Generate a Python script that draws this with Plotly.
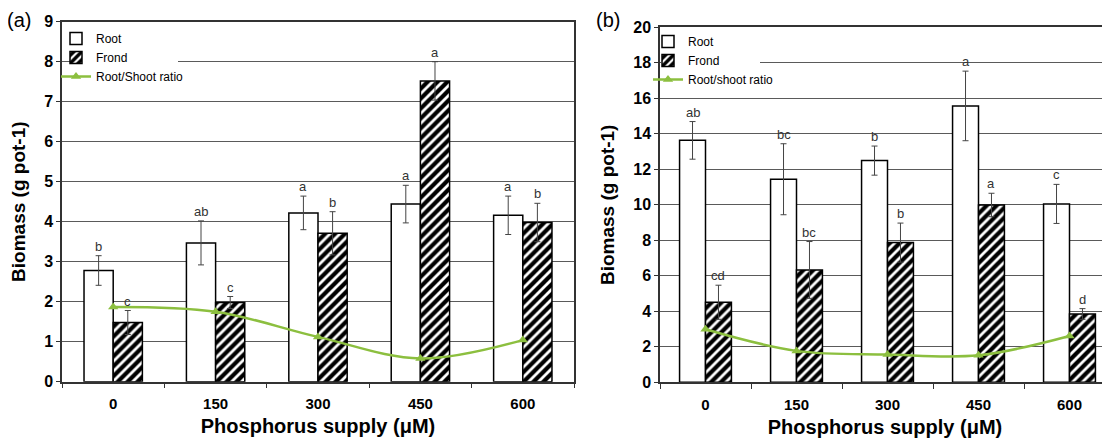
import plotly.graph_objects as go

categories = ["0", "150", "300", "450", "600"]

# Panel (a)
root_a = [2.78, 3.47, 4.22, 4.44, 4.16]
root_a_err = [0.37, 0.55, 0.42, 0.47, 0.48]
frond_a = [1.48, 1.98, 3.71, 7.52, 3.98]
frond_a_err = [0.30, 0.15, 0.54, 0.48, 0.48]
ratio_a = [1.87, 1.75, 1.12, 0.58, 1.04]
letters_root_a = ["b", "ab", "a", "a", "a"]
letters_frond_a = ["c", "c", "b", "a", "b"]

# Panel (b)
root_b = [13.63, 11.44, 12.49, 15.57, 10.05]
root_b_err = [1.06, 2.00, 0.82, 1.96, 1.10]
frond_b = [4.51, 6.33, 7.87, 9.99, 3.85]
frond_b_err = [0.96, 1.60, 1.10, 0.66, 0.30]
ratio_b = [2.99, 1.77, 1.56, 1.52, 2.61]
letters_root_b = ["ab", "bc", "b", "a", "c"]
letters_frond_b = ["cd", "bc", "b", "a", "d"]

W, H = 1110, 439
PAGE_OFFSET = 8  # browser default body margin
GREEN = "#8cbf3f"
GRID = "#5a5a5a"
ERR = "#444444"
FONT = "Liberation Sans, Arial, sans-serif"
BARGAP = 0.43
OFF = (1 - BARGAP) / 4  # center offset of each bar in category units


def px_x(p):
    return (p - PAGE_OFFSET) / W


def px_y(p):
    return (H - (p - PAGE_OFFSET)) / H


fig = go.Figure()


def add_panel(xa, ya, legend, root, root_err, frond, frond_err, ratio, ratio_name):
    fig.add_trace(go.Bar(
        x=categories, y=root, name="Root", xaxis=xa, yaxis=ya, legend=legend,
        marker=dict(color="white", line=dict(color="black", width=1.5)),
        error_y=dict(type="data", array=root_err, color=ERR, thickness=1, width=3),
    ))
    fig.add_trace(go.Bar(
        x=categories, y=frond, name="Frond", xaxis=xa, yaxis=ya, legend=legend,
        marker=dict(color="white", line=dict(color="black", width=1.5),
                    pattern=dict(shape="/", fgcolor="black", bgcolor="white",
                                 fgopacity=1, size=7, solidity=0.6)),
        error_y=dict(type="data", array=frond_err, color=ERR, thickness=1, width=3),
    ))
    fig.add_trace(go.Scatter(
        x=categories, y=ratio, name=ratio_name, xaxis=xa, yaxis=ya, legend=legend,
        mode="lines+markers", line=dict(color=GREEN, width=2.5, shape="spline"),
        marker=dict(symbol="triangle-up", size=9, color=GREEN),
    ))


add_panel("x", "y", "legend", root_a, root_a_err, frond_a, frond_a_err, ratio_a, "Root/Shoot ratio")
add_panel("x2", "y2", "legend2", root_b, root_b_err, frond_b, frond_b_err, ratio_b, "Root/shoot ratio")

annotations = []


def add_letters(xref, yref, vals, errs, letters, sign):
    for i, (v, e, t) in enumerate(zip(vals, errs, letters)):
        annotations.append(dict(
            x=i + sign * OFF, y=v + e, xref=xref, yref=yref, text=t,
            showarrow=False, yanchor="bottom", yshift=0,
            font=dict(family=FONT, size=13, color="#333333"),
        ))


add_letters("x", "y", root_a, root_a_err, letters_root_a, -1)
add_letters("x", "y", frond_a, frond_a_err, letters_frond_a, 1)
add_letters("x2", "y2", root_b, root_b_err, letters_root_b, -1)
add_letters("x2", "y2", frond_b, frond_b_err, letters_frond_b, 1)

annotations.append(dict(x=px_x(5), y=px_y(20), xref="paper", yref="paper", text="(a)",
                        showarrow=False, xanchor="left", yanchor="middle",
                        font=dict(family=FONT, size=20, color="black")))
annotations.append(dict(x=px_x(594), y=px_y(20), xref="paper", yref="paper", text="(b)",
                        showarrow=False, xanchor="left", yanchor="middle",
                        font=dict(family=FONT, size=20, color="black")))

axis_common = dict(
    showline=True, linecolor="#333333", linewidth=1.5, mirror=True, automargin=False,
)
xaxis_common = dict(
    type="category", tickson="boundaries", ticks="outside", ticklen=5,
    tickcolor="#333333", showgrid=False, ticklabelstandoff=8,
    tickfont=dict(family=FONT, size=15, color="black", weight="bold"),
    title=dict(text="Phosphorus supply (μM)", standoff=8,
               font=dict(family=FONT, size=20, color="black", weight="bold")),
    **axis_common,
)
yaxis_common = dict(
    ticks="outside", ticklen=4, tickcolor="#333333",
    showgrid=True, gridcolor=GRID, gridwidth=1.2, zeroline=False,
    tickfont=dict(family=FONT, size=16, color="black", weight="bold"),
    **axis_common,
)

# white masks hiding the gridline behind each legend (as in the original)
masks = [
    dict(type="rect", xref="paper", yref="y", x0=px_x(72), x1=px_x(178), y0=7.9, y1=8.1,
         fillcolor="white", line=dict(width=0), layer="above"),
    dict(type="rect", xref="paper", yref="y2", x0=px_x(661), x1=px_x(760), y0=17.85, y1=18.15,
         fillcolor="white", line=dict(width=0), layer="above"),
]

fig.update_layout(
    width=W, height=H, autosize=False,
    margin=dict(l=0, r=0, t=0, b=0, pad=0, autoexpand=False),
    paper_bgcolor="white", plot_bgcolor="white",
    barmode="group", bargap=BARGAP, bargroupgap=0,
    xaxis=dict(domain=[px_x(62), px_x(574)], anchor="y", range=[-0.5, 4.5], **xaxis_common),
    yaxis=dict(domain=[px_y(381.7), px_y(21.7)], anchor="x", range=[0, 9], dtick=1,
               title=dict(text="Biomass (g pot-1)", standoff=14,
                          font=dict(family=FONT, size=19, color="black", weight="bold")),
               **yaxis_common),
    xaxis2=dict(domain=[px_x(660), px_x(1110)], anchor="y2", range=[-0.5, -0.5 + 450 / 91],
                **xaxis_common),
    yaxis2=dict(domain=[px_y(382.3), px_y(27.3)], anchor="x2", range=[0, 20], dtick=2,
                title=dict(text="Biomass (g pot-1)", standoff=14,
                           font=dict(family=FONT, size=19, color="black", weight="bold")),
                **yaxis_common),
    legend=dict(x=px_x(56), y=px_y(24), xanchor="left", yanchor="top",
                bgcolor="rgba(0,0,0,0)", font=dict(family=FONT, size=12, color="black"),
                tracegroupgap=0, itemwidth=30),
    legend2=dict(x=px_x(648), y=px_y(27), xanchor="left", yanchor="top",
                 bgcolor="rgba(0,0,0,0)", font=dict(family=FONT, size=12, color="black"),
                 tracegroupgap=0, itemwidth=30),
    annotations=annotations,
    shapes=masks,
)

fig.write_html("out.html")
